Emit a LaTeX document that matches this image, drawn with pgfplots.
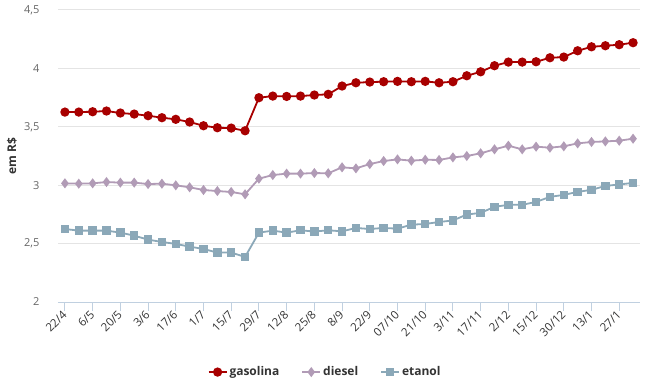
\documentclass[border=0pt]{standalone}
\usepackage{pgfplots}
\pgfplotsset{compat=1.18}
\usepackage{pgfplotstable}
\usepackage{fontspec}
\setmainfont{Open Sans}
\definecolor{gas}{RGB}{168,0,0}
\definecolor{die}{RGB}{177,155,182}
\definecolor{eta}{RGB}{139,168,184}
\definecolor{gridc}{RGB}{228,228,228}
\definecolor{axc}{RGB}{192,208,224}
\definecolor{lab}{RGB}{102,102,102}
\definecolor{dark}{RGB}{51,51,51}
\pgfplotstableread{
x g d e
0 3.626 3.016 2.625
1 3.626 3.013 2.611
2 3.629 3.016 2.611
3 3.635 3.027 2.611
4 3.618 3.022 2.594
5 3.609 3.022 2.568
6 3.595 3.010 2.534
7 3.578 3.013 2.514
8 3.564 2.999 2.497
9 3.541 2.982 2.474
10 3.509 2.959 2.454
11 3.492 2.950 2.423
12 3.489 2.942 2.423
13 3.466 2.922 2.386
14 3.749 3.056 2.594
15 3.763 3.087 2.611
16 3.760 3.099 2.594
17 3.763 3.099 2.614
18 3.772 3.104 2.603
19 3.778 3.102 2.614
20 3.849 3.153 2.605
21 3.877 3.144 2.634
22 3.883 3.181 2.625
23 3.886 3.207 2.634
24 3.889 3.221 2.628
25 3.886 3.210 2.662
26 3.889 3.218 2.668
27 3.877 3.216 2.685
28 3.886 3.238 2.698
29 3.937 3.250 2.749
30 3.971 3.273 2.763
31 4.023 3.307 2.815
32 4.054 3.338 2.832
33 4.054 3.307 2.832
34 4.057 3.330 2.857
35 4.091 3.321 2.900
36 4.097 3.333 2.917
37 4.151 3.358 2.943
38 4.185 3.370 2.960
39 4.194 3.375 2.994
40 4.203 3.381 3.006
41 4.220 3.398 3.020
}\data
\begin{document}
\begin{tikzpicture}
\path[use as bounding box] (-58pt,-84pt) rectangle (588pt,302pt);
\begin{axis}[
  at={(0,0)}, anchor=south west,
  scale only axis, width=582pt, height=292pt,
  xmin=-0.5, xmax=41.5, ymin=2, ymax=4.5,
  xtick={0,2,...,40},
  xticklabels={22/4,6/5,20/5,3/6,17/6,1/7,15/7,29/7,12/8,25/8,8/9,22/9,07/10,21/10,3/11,17/11,2/12,15/12,30/12,13/1,27/1},
  ytick={2,2.5,3,3.5,4,4.5},
  yticklabel style={/pgf/number format/use comma, /pgf/number format/assume math mode=true, font=\fontsize{11}{13}\selectfont, text=lab, xshift=-6pt},
  xticklabel style={rotate=45, anchor=east, font=\fontsize{11.5}{13}\selectfont, text=dark, yshift=-1pt, xshift=2pt},
  axis x line*=bottom, axis y line*=left,
  x axis line style={draw=axc, line width=1pt, -},
  y axis line style={draw=none},
  xtick style={draw=axc, line width=1pt},
  major tick length=9pt,
  tick align=outside,
  ymajorgrids, ytick style={draw=none},
  major grid style={draw=gridc, line width=1pt},
  ylabel={em R\$},
  every axis y label/.style={at={(axis description cs:-0.079,0.5)}, rotate=90, anchor=center, font=\bfseries\fontsize{12}{14}\selectfont, text=dark},
  legend style={at={(axis description cs:0.459,-0.24)}, anchor=center, draw=none, legend columns=3, font=\bfseries\fontsize{12}{14}\selectfont, text=dark, /tikz/every even column/.append style={column sep=20pt}},
  legend image code/.code={\draw[#1, mark repeat=2, mark phase=2] plot coordinates {(0pt,0pt) (9pt,0pt) (18pt,0pt)};},
]
\addplot[gas, line width=1.8pt, mark=*, mark size=3.7pt] table[x=x, y=g] {\data};
\addlegendentry{gasolina}
\addplot[die, line width=1.8pt, mark=diamond*, mark size=3.6pt] table[x=x, y=d] {\data};
\addlegendentry{diesel}
\addplot[eta, line width=1.8pt, mark=square*, mark size=3.3pt] table[x=x, y=e] {\data};
\addlegendentry{etanol}
\end{axis}
\end{tikzpicture}
\end{document}
